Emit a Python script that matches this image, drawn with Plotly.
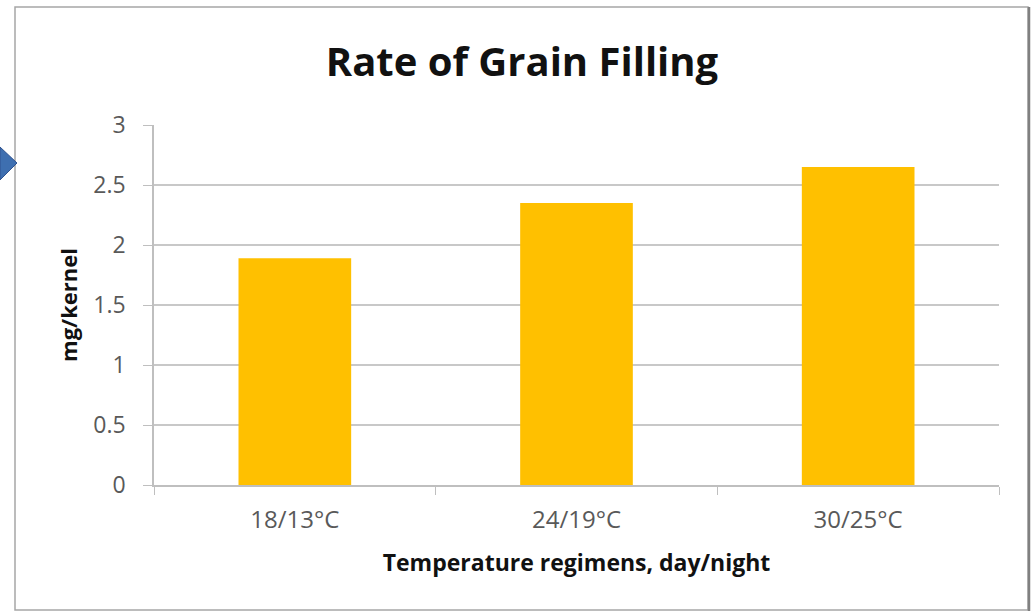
import plotly.graph_objects as go

categories = ["18/13°C", "24/19°C", "30/25°C"]
values = [1.89, 2.35, 2.65]
y_ticks = [0, 0.5, 1, 1.5, 2, 2.5, 3]
y_tick_labels = ["0", "0.5", "1", "1.5", "2", "2.5", "3"]

W, H = 1034, 613
L, R, T, B = 154, 35, 125, 128
pw, ph = W - L - R, H - T - B

def px(x):
    return (x - L) / pw

def py(y):
    return (H - B - y) / ph

font_family = "'Open Sans', Lato, sans-serif"
tick_color = "#595959"

fig = go.Figure(go.Bar(
    x=categories, y=values,
    marker=dict(color="#FFC000", line=dict(width=0)),
    width=0.4,
))

fig.update_layout(
    width=W, height=H,
    margin=dict(l=L, r=R, t=T, b=B),
    paper_bgcolor="white", plot_bgcolor="white",
    showlegend=False,
    font=dict(family=font_family, color=tick_color),
    title=dict(text="<b>Rate of Grain Filling</b>", xref="container", x=522 / W,
               xanchor="center", y=1 - 62 / H, yanchor="middle",
               font=dict(size=40, color="#111111", family=font_family)),
    xaxis=dict(
        showline=True, linecolor="#BFBFBF", linewidth=1.5,
        ticks="outside", tickson="boundaries", ticklen=8, tickcolor="#BFBFBF",
        ticklabelstandoff=12,
        tickfont=dict(size=24, color=tick_color),
        title=dict(text="<b>Temperature regimens, day/night</b>",
                   font=dict(size=23, color="#111111"), standoff=21),
        showgrid=False,
    ),
    yaxis=dict(
        range=[0, 3], tickvals=y_ticks, ticktext=y_tick_labels,
        showline=True, linecolor="#BFBFBF", linewidth=1.5,
        ticks="outside", ticklen=9, tickcolor="#BFBFBF",
        ticklabelstandoff=13,
        showgrid=True, gridcolor="#C8C8C8", gridwidth=1.5,
        zeroline=False,
        tickfont=dict(size=23, color=tick_color),
        title=dict(text="<b>mg/kernel</b>", font=dict(size=22, color="#111111"),
                   standoff=10),
    ),
    shapes=[
        dict(type="rect", xref="paper", yref="paper",
             x0=px(15), x1=px(1028), y0=py(610), y1=py(7),
             line=dict(color="#A6A6A6", width=1.5), layer="below"),
        dict(type="line", xref="paper", yref="paper",
             x0=px(1029), x1=px(1029), y0=py(611), y1=py(7),
             line=dict(color="#808080", width=2.5)),
        dict(type="path", xref="paper", yref="paper",
             path=f"M {px(0)},{py(147)} L {px(17)},{py(163)} L {px(0)},{py(180)} Z",
             fillcolor="#3E6FB0", line=dict(color="#2F528F", width=1)),
    ],
)

fig.write_html("out.html", config={"displayModeBar": False},
               post_script="document.body.style.margin='0';document.body.style.overflow='hidden';")
